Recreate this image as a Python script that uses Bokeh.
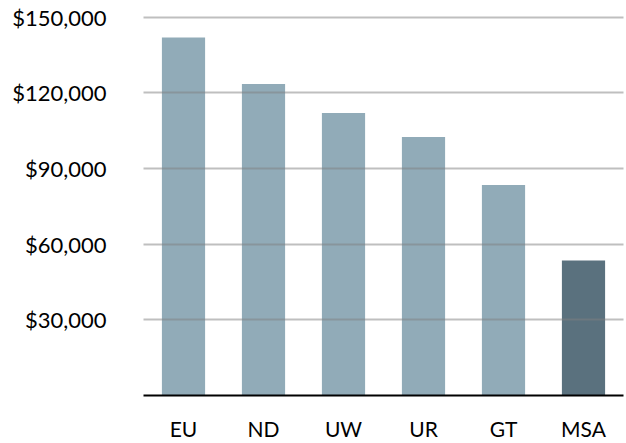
from bokeh.plotting import figure
from bokeh.models import Range1d, FixedTicker, ColumnDataSource
from bokeh.embed import file_html
from bokeh.resources import INLINE

categories = ["EU", "ND", "UW", "UR", "GT", "MSA"]
values = [142000, 123500, 112000, 102500, 83500, 53500]
bar_colors = ["#91abb8", "#91abb8", "#91abb8", "#91abb8", "#91abb8", "#5a717e"]
y_ticks = [30000, 60000, 90000, 120000, 150000]
y_tick_labels = ["$30,000", "$60,000", "$90,000", "$120,000", "$150,000"]

xs = [i + 0.5 for i in range(len(categories))]
src = ColumnDataSource(dict(x=xs, top=values, color=bar_colors))

p = figure(width=626, height=443, output_backend="svg", toolbar_location=None,
           x_range=Range1d(0, 6.0), y_range=Range1d(0, 152700),
           min_border_left=143, min_border_right=3, min_border_top=10, min_border_bottom=42)
p.outline_line_color = None
p.border_fill_color = "white"
p.background_fill_color = "white"

p.vbar(x="x", top="top", width=0.54, bottom=0, color="color", source=src, line_color=None)

p.xaxis.ticker = FixedTicker(ticks=xs)
p.xaxis.major_label_overrides = {x: c for x, c in zip(xs, categories)}
p.yaxis.ticker = FixedTicker(ticks=y_ticks)
p.yaxis.major_label_overrides = {t: l for t, l in zip(y_ticks, y_tick_labels)}

for ax in (p.xaxis, p.yaxis):
    ax.major_tick_line_color = None
    ax.minor_tick_line_color = None
    ax.major_label_text_font = "Lato"
    ax.major_label_text_color = "black"

p.xaxis.axis_line_color = "black"
p.xaxis.axis_line_width = 2
p.xaxis.major_label_text_font_size = "21px"
p.xaxis.major_label_standoff = 14
p.yaxis.axis_line_color = None
p.yaxis.major_label_text_font_size = "22px"
p.yaxis.major_label_standoff = 31

p.xgrid.grid_line_color = None
p.ygrid.grid_line_color = "#808080"
p.ygrid.grid_line_alpha = 0.5
p.ygrid.grid_line_width = 2
p.ygrid.level = "overlay"

open("out.html", "w").write(file_html(p, INLINE))
